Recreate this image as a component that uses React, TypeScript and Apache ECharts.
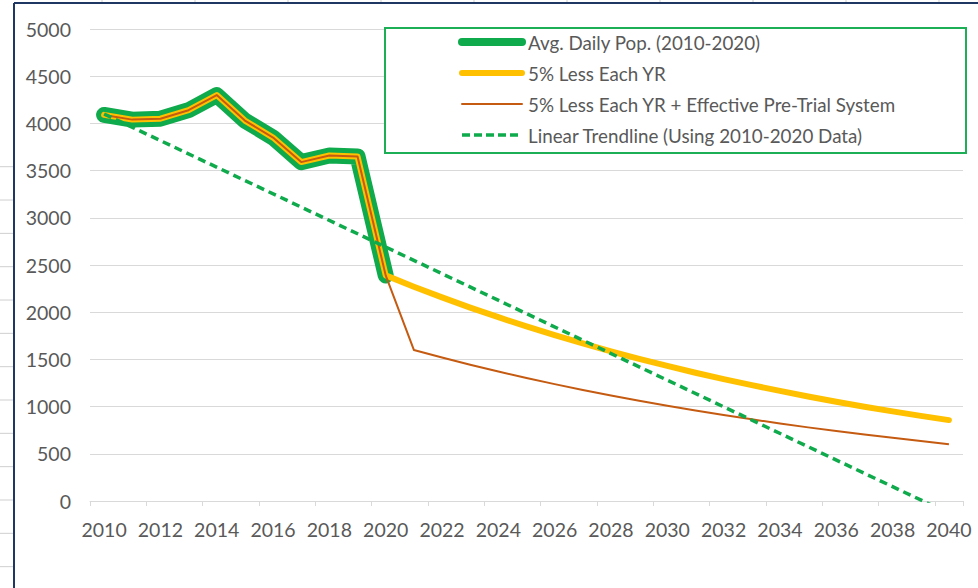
import React, { useEffect, useRef } from 'react';
import * as echarts from 'echarts';

const years = [
  '2010', '2011', '2012', '2013', '2014', '2015', '2016', '2017', '2018', '2019', '2020',
  '2021', '2022', '2023', '2024', '2025', '2026', '2027', '2028', '2029', '2030',
  '2031', '2032', '2033', '2034', '2035', '2036', '2037', '2038', '2039', '2040',
];

const avgDailyPop = [4090, 4040, 4050, 4140, 4300, 4030, 3850, 3590, 3660, 3650, 2390];

const fivePctLess = [
  4090, 4040, 4050, 4140, 4300, 4030, 3850, 3590, 3660, 3650, 2390,
  2270, 2157, 2049, 1947, 1849, 1757, 1669, 1586, 1506, 1431,
  1359, 1291, 1227, 1166, 1107, 1052, 999, 949, 902, 857,
];

const fivePctPreTrial = [
  4090, 4040, 4050, 4140, 4300, 4030, 3850, 3590, 3660, 3650, 2390,
  1600, 1520, 1444, 1372, 1303, 1238, 1176, 1117, 1061, 1008,
  958, 910, 865, 821, 780, 741, 704, 669, 636, 600,
];

const trendYears = ['2010', '2040'];
const trendValues = [4100, -130];

const seriesNames = [
  'Avg. Daily Pop. (2010-2020)',
  '5% Less Each YR',
  '5% Less Each YR + Effective Pre-Trial System',
  'Linear Trendline (Using 2010-2020 Data)',
];

const GREEN = '#0FAA4C';
const GOLD = '#FFC000';
const BROWN = '#C55A11';
const TEXT = '#595959';
const FONT = 'Lato, "Open Sans", sans-serif';

export default function App() {
  const ref = useRef<HTMLDivElement>(null);

  useEffect(() => {
    document.body.style.margin = '0';
    const chart = echarts.init(ref.current!, undefined, { renderer: 'svg' });

    const legendY = [42, 73, 104, 135];
    const legendLines: any[] = [
      { stroke: GREEN, lineWidth: 8 },
      { stroke: GOLD, lineWidth: 6 },
      { stroke: BROWN, lineWidth: 2 },
      { stroke: GREEN, lineWidth: 3.5, lineDash: [8, 4] },
    ];

    const decor: any[] = [];
    [102, 195, 288, 381, 474, 567, 660, 753, 846, 939].forEach((x) => {
      decor.push({ type: 'line', shape: { x1: x, y1: 0, x2: x, y2: 2 }, style: { stroke: '#cfcfcf', lineWidth: 1 }, silent: true });
    });
    for (let k = 0; k < 13; k++) {
      const y = 166.7 + k * 33.33;
      decor.push({ type: 'line', shape: { x1: 0, y1: y, x2: 13, y2: y }, style: { stroke: '#cfcfcf', lineWidth: 1 }, silent: true });
    }
    decor.push({ type: 'line', shape: { x1: 14, y1: 3, x2: 978, y2: 3 }, style: { stroke: '#1F3763', lineWidth: 2 }, silent: true });
    decor.push({ type: 'line', shape: { x1: 14, y1: 3, x2: 14, y2: 588 }, style: { stroke: '#1F3763', lineWidth: 2 }, silent: true });

    const legendGroup: any[] = [
      {
        type: 'rect',
        shape: { x: 385, y: 28, width: 581, height: 125 },
        style: { fill: '#ffffff', stroke: '#1DAF55', lineWidth: 2 },
        z: 100,
      },
    ];
    seriesNames.forEach((name, i) => {
      legendGroup.push({
        type: 'line',
        shape: { x1: 462, y1: legendY[i], x2: 522, y2: legendY[i] },
        style: { ...legendLines[i], lineCap: i === 3 ? 'butt' : 'round' },
        z: 101,
      });
      legendGroup.push({
        type: 'text',
        x: 528,
        y: legendY[i],
        style: { text: name, fill: TEXT, fontSize: 18.8, fontFamily: FONT, verticalAlign: 'middle', align: 'left' },
        z: 101,
      });
    });

    chart.setOption({
      animation: false,
      backgroundColor: '#ffffff',
      grid: { left: 90, right: 15, top: 29, bottom: 87, containLabel: false },
      xAxis: {
        type: 'category',
        data: years,
        boundaryGap: true,
        axisLine: { lineStyle: { color: '#D9D9D9', width: 1 } },
        axisTick: { show: true, interval: 1, length: 5, lineStyle: { color: '#D9D9D9' } },
        axisLabel: { interval: 1, color: TEXT, fontSize: 19.5, fontFamily: FONT, margin: 18 },
        splitLine: { show: false },
      },
      yAxis: {
        type: 'value',
        min: 0,
        max: 5000,
        interval: 500,
        axisLine: { show: false },
        axisTick: { show: false },
        axisLabel: { color: TEXT, fontSize: 19.5, fontFamily: FONT, margin: 19, formatter: (v: number) => String(v) },
        splitLine: { lineStyle: { color: '#D9D9D9', width: 1 } },
      },
      series: [
        {
          name: seriesNames[0],
          type: 'line',
          data: avgDailyPop,
          symbol: 'none',
          lineStyle: { color: GREEN, width: 16, cap: 'round', join: 'round' },
          z: 2,
        },
        {
          name: seriesNames[1],
          type: 'line',
          data: fivePctLess,
          symbol: 'none',
          lineStyle: { color: GOLD, width: 6, cap: 'round', join: 'round' },
          z: 3,
        },
        {
          name: seriesNames[2],
          type: 'line',
          data: fivePctPreTrial,
          symbol: 'none',
          lineStyle: { color: BROWN, width: 2, join: 'round' },
          z: 4,
        },
        {
          name: seriesNames[3],
          type: 'line',
          data: trendYears.map((y, i) => [y, trendValues[i]]),
          symbol: 'none',
          clip: true,
          lineStyle: { color: GREEN, width: 3.5, type: [8, 5] },
          z: 5,
        },
      ],
      graphic: [...decor, ...legendGroup],
    });

    return () => chart.dispose();
  }, []);

  return <div ref={ref} style={{ width: 978, height: 588, background: '#ffffff' }} />;
}
